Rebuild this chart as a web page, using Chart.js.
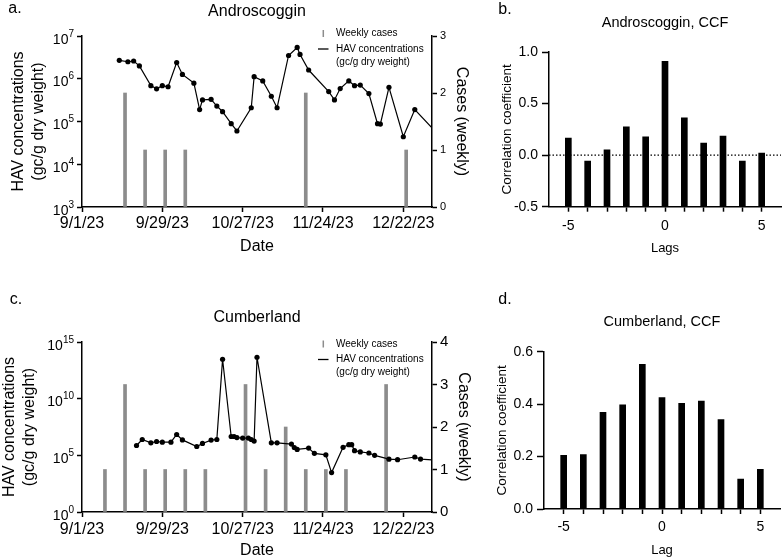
<!DOCTYPE html>
<html>
<head>
<meta charset="utf-8">
<title>HAV concentrations and weekly cases</title>
<script src="https://cdn.jsdelivr.net/npm/chart.js@4.4.1/dist/chart.umd.min.js"></script>
<style>
  html, body { margin: 0; padding: 0; background: #fff; }
  #page { position: relative; width: 784px; height: 559px; overflow: hidden; background: #fff; }
  canvas { position: absolute; }
</style>
</head>
<body>
<div id="page">
  <canvas id="panelA" width="500" height="275" style="left:0;top:0"></canvas>
  <canvas id="panelC" width="500" height="279" style="left:0;top:280px"></canvas>
  <canvas id="panelB" width="294" height="275" style="left:490px;top:0"></canvas>
  <canvas id="panelD" width="294" height="279" style="left:490px;top:280px"></canvas>
</div>
<script>
const FONT = '"Liberation Sans", Arial, Helvetica, sans-serif';
const BAR_GRAY = '#8c8c8c';

//x-axis: dates as text, converted to days since 9/1/23
const dateTicks = ['9/1/23', '9/29/23', '10/27/23', '11/24/23', '12/22/23'];
const dateEnd = '1/1/24';
const legendLabels = ['Weekly cases', 'HAV concentrations', '(gc/g dry weight)'];

//Androscoggin
const androDates = ['9/14/23', '9/17/23', '9/19/23', '9/21/23', '9/25/23', '9/27/23', '9/29/23', '10/1/23',
  '10/4/23', '10/6/23', '10/10/23', '10/12/23', '10/13/23', '10/16/23', '10/18/23', '10/20/23', '10/23/23',
  '10/25/23', '10/30/23', '10/31/23', '11/3/23', '11/6/23', '11/8/23', '11/12/23', '11/15/23', '11/16/23',
  '11/19/23', '11/26/23', '11/28/23', '11/30/23', '12/3/23', '12/5/23', '12/7/23', '12/10/23', '12/13/23',
  '12/14/23', '12/17/23', '12/22/23', '12/26/23', '1/3/24'];
const androHav = [2.7e6, 2.5e6, 2.6e6, 2.0e6, 6.9e5, 5.8e5, 6.9e5, 6.5e5,
  2.4e6, 1.26e6, 7.9e5, 1.9e5, 3.2e5, 3.3e5, 2.3e5, 1.7e5, 8.9e4,
  6.0e4, 2.1e5, 1.12e6, 8.9e5, 3.9e5, 2.1e5, 3.5e6, 5.4e6, 3.7e6,
  1.6e6, 5.0e5, 3.2e5, 5.9e5, 8.9e5, 6.9e5, 7.1e5, 4.5e5, 8.9e4,
  8.7e4, 6.3e5, 4.4e4, 1.9e5, 5.1e4];
const androCaseDates = ['9/16/23', '9/23/23', '9/30/23', '10/7/23', '11/18/23', '12/23/23'];
const androCases = [2, 1, 1, 1, 2, 1];
const androDecades = [1e3, 1e4, 1e5, 1e6, 1e7];

//Cumberland
const cumbDates = ['9/20/23', '9/22/23', '9/25/23', '9/27/23', '9/29/23', '10/2/23', '10/4/23', '10/6/23',
  '10/11/23', '10/13/23', '10/16/23', '10/18/23', '10/20/23', '10/23/23', '10/24/23', '10/25/23', '10/27/23',
  '10/29/23', '10/30/23', '10/31/23', '11/1/23', '11/6/23', '11/8/23', '11/13/23', '11/14/23', '11/15/23',
  '11/19/23', '11/21/23', '11/25/23', '11/27/23', '12/1/23', '12/3/23', '12/4/23', '12/5/23', '12/7/23',
  '12/10/23', '12/12/23', '12/17/23', '12/20/23', '12/26/23', '12/28/23', '1/3/24'];
const cumbHav = [7.4e5, 2.5e6, 1.26e6, 1.66e6, 1.45e6, 1.45e6, 6.9e6, 2.3e6,
  6.0e5, 1.12e6, 2.2e6, 2.5e6, 3.0e13, 4.6e6, 4.6e6, 3.7e6, 3.3e6,
  3.3e6, 2.5e6, 1.8e6, 4.5e13, 1.26e6, 1.26e6, 9.8e5, 4.9e5, 3.3e5,
  4.4e5, 1.5e5, 1.1e5, 3.0e3, 5.1e5, 8.7e5, 8.7e5, 2.6e5, 2.0e5,
  1.6e5, 1.0e5, 4.6e4, 4.1e4, 7.1e4, 4.7e4, 3.7e4];
const cumbCaseDates = ['9/9/23', '9/16/23', '9/23/23', '9/30/23', '10/7/23', '10/14/23', '10/28/23',
  '11/4/23', '11/11/23', '11/18/23', '11/25/23', '12/2/23', '12/16/23'];
const cumbCases = [1, 3, 1, 1, 1, 1, 3, 1, 2, 1, 1, 1, 3];
const cumbDecades = [1, 1e5, 1e10, 1e15];

//cross-correlation
const lags = [-5, -4, -3, -2, -1, 0, 1, 2, 3, 4, 5];
const androCcf = [0.165, -0.058, 0.052, 0.274, 0.177, 0.91, 0.361, 0.116, 0.184, -0.058, 0.019];
const cumbCcf = [0.205, 0.208, 0.369, 0.397, 0.552, 0.425, 0.403, 0.412, 0.341, 0.114, 0.151];

Chart.defaults.font.family = FONT;
Chart.defaults.color = '#000';

const START = new Date(2023, 8, 1);
function dayOf(label) {
  const [m, d, y] = label.split('/').map(Number);
  return Math.round((new Date(2000 + y, m - 1, d) - START) / 86400000);
}
function toPoints(dates, values) {
  return dates.map((s, i) => ({ x: dayOf(s), y: values[i] }));
}
const dateTickDays = dateTicks.map(dayOf);
const axisBorder = { display: true, color: '#000', width: 1.5 };

//10^n labels with a raised exponent
const powerLabels = {
  id: 'powerLabels',
  afterDraw(chart, args, opts) {
    const scale = chart.scales.y;
    const ctx = chart.ctx;
    ctx.save();
    ctx.fillStyle = '#000';
    ctx.textAlign = 'right';
    ctx.textBaseline = 'alphabetic';
    scale.ticks.forEach(tick => {
      const y = scale.getPixelForValue(tick.value);
      const exp = String(Math.round(Math.log10(tick.value)));
      const right = scale.right - opts.gap;
      ctx.font = `${opts.expSize}px ${FONT}`;
      const expWidth = ctx.measureText(exp).width;
      ctx.fillText(exp, right, y + opts.expDy);
      ctx.font = `${opts.baseSize}px ${FONT}`;
      ctx.fillText('10', right - expWidth, y + opts.baseDy);
    });
    ctx.restore();
  }
};

//small legend inside the plot (gray tick = cases, black dash = concentrations)
const caseLegend = {
  id: 'caseLegend',
  afterDraw(chart, args, opts) {
    const ctx = chart.ctx;
    const [r1, r2, r3] = opts.rows;
    ctx.save();
    ctx.strokeStyle = BAR_GRAY;
    ctx.lineWidth = 1.5;
    ctx.beginPath();
    ctx.moveTo(opts.x + 5.3, r1 - 3.5);
    ctx.lineTo(opts.x + 5.3, r1 + 3.5);
    ctx.stroke();
    ctx.strokeStyle = '#000';
    ctx.lineWidth = 1.3;
    ctx.beginPath();
    ctx.moveTo(opts.x, r2);
    ctx.lineTo(opts.x + 10.5, r2);
    ctx.stroke();
    ctx.font = `10px ${FONT}`;
    ctx.fillStyle = '#000';
    ctx.textAlign = 'left';
    ctx.textBaseline = 'middle';
    ctx.fillText(legendLabels[0], opts.x + 18, r1);
    ctx.fillText(legendLabels[1], opts.x + 18, r2);
    ctx.fillText(legendLabels[2], opts.x + 18, r3);
    ctx.restore();
  }
};

const panelLetter = {
  id: 'panelLetter',
  afterDraw(chart, args, opts) {
    const ctx = chart.ctx;
    ctx.save();
    ctx.font = `16px ${FONT}`;
    ctx.fillStyle = '#000';
    ctx.textAlign = 'center';
    ctx.textBaseline = 'middle';
    ctx.fillText(opts.text, opts.x, opts.y);
    ctx.restore();
  }
};

//dotted line at correlation 0
const zeroLine = {
  id: 'zeroLine',
  beforeDatasetsDraw(chart) {
    const ctx = chart.ctx;
    const y = chart.scales.y.getPixelForValue(0);
    const { left, right } = chart.chartArea;
    ctx.save();
    ctx.setLineDash([1.5, 2]);
    ctx.lineWidth = 1.3;
    ctx.strokeStyle = '#000';
    ctx.beginPath();
    ctx.moveTo(left, y);
    ctx.lineTo(right, y);
    ctx.stroke();
    ctx.restore();
  }
};

/**
 * time series: HAV concentrations (log, left) and weekly cases (bars, right)
 */
function createSeriesChart(canvasId, p) {
  return new Chart(document.getElementById(canvasId), {
    type: 'line',
    data: {
      datasets: [{
        type: 'line',
        label: 'HAV concentrations (gc/g dry weight)',
        data: toPoints(p.dates, p.hav),
        yAxisID: 'y',
        borderColor: '#000',
        borderWidth: 1.2,
        pointRadius: 2.6,
        pointBackgroundColor: '#000',
        pointBorderWidth: 0,
        clip: 0,
        order: 0
      }, {
        type: 'bar',
        label: 'Weekly cases',
        data: toPoints(p.caseDates, p.cases),
        yAxisID: 'yCases',
        backgroundColor: BAR_GRAY,
        barThickness: 3,
        order: 1
      }]
    },
    options: {
      responsive: false,
      animation: false,
      plugins: {
        legend: { display: false },
        tooltip: { enabled: false },
        title: {
          display: true, text: p.title, fullSize: false,
          font: { size: 16, weight: 'normal' }, padding: p.titlePad
        },
        powerLabels: { gap: 8, baseSize: 14, expSize: 10, baseDy: 7.5, expDy: 0.5 },
        caseLegend: { x: 318, rows: p.legendRows },
        panelLetter: p.letter
      },
      scales: {
        x: {
          type: 'linear', min: 0, max: dayOf(dateEnd), offset: false,
          afterBuildTicks: s => { s.ticks = dateTickDays.map(v => ({ value: v })); },
          afterFit: s => { s.height = p.xHeight; },
          grid: { drawOnChartArea: false, offset: false, tickLength: 5, tickColor: '#000', tickWidth: 1.5 },
          border: axisBorder,
          ticks: {
            autoSkip: false, maxRotation: 0, font: { size: 16 }, padding: p.xTickPad,
            callback: v => dateTicks[dateTickDays.indexOf(v)]
          },
          title: { display: true, text: 'Date', font: { size: 16, lineHeight: 1 }, padding: { top: 0, bottom: p.xTitlePad } }
        },
        y: {
          type: 'logarithmic', position: 'left',
          min: p.decades[0], max: p.decades[p.decades.length - 1],
          afterBuildTicks: s => { s.ticks = p.decades.map(v => ({ value: v })); },
          afterFit: s => { s.width = 82; },
          grid: { drawOnChartArea: false, tickLength: 5, tickColor: '#000', tickWidth: 1.5 },
          border: axisBorder,
          ticks: { display: false },
          title: {
            display: true, text: ['HAV concentrations', '(gc/g dry weight)'],
            font: { size: 16, lineHeight: 1.25 }, padding: { top: p.yTitlePad, bottom: 0 }
          }
        },
        yCases: {
          type: 'linear', position: 'right', min: 0, max: p.caseMax,
          afterFit: s => { s.width = 68; },
          grid: { drawOnChartArea: false, tickLength: 5, tickColor: '#000', tickWidth: 1.5 },
          border: axisBorder,
          ticks: { stepSize: 1, font: { size: p.caseFont }, padding: 3 },
          title: { display: true, text: 'Cases (weekly)', font: { size: 16 }, padding: { top: p.caseTitlePad, bottom: 0 } }
        }
      }
    },
    plugins: [powerLabels, caseLegend, panelLetter]
  });
}

/**
 * cross-correlation bars per lag
 */
function createCcfChart(canvasId, p) {
  return new Chart(document.getElementById(canvasId), {
    type: 'bar',
    data: {
      datasets: [{
        label: p.title,
        data: lags.map((lag, i) => ({ x: lag, y: p.values[i] })),
        backgroundColor: '#000',
        barThickness: 6,
        base: p.yMin
      }]
    },
    options: {
      responsive: false,
      animation: false,
      layout: { padding: { right: p.padRight } },
      plugins: {
        legend: { display: false },
        tooltip: { enabled: false },
        title: {
          display: true, text: p.title, fullSize: false,
          font: { size: 14.5, weight: 'normal' }, padding: p.titlePad
        },
        panelLetter: p.letter
      },
      scales: {
        x: {
          type: 'linear', min: -6, max: 6, offset: false,
          afterBuildTicks: s => { s.ticks = lags.map(v => ({ value: v })); },
          afterFit: s => { s.height = p.xHeight; },
          grid: { drawOnChartArea: false, offset: false, tickLength: 5, tickColor: '#000', tickWidth: 1.5 },
          border: axisBorder,
          ticks: {
            autoSkip: false, maxRotation: 0, font: { size: 14 }, padding: p.xTickPad,
            callback: v => (v % 5 === 0 ? String(v) : '')
          },
          title: { display: true, text: p.xTitle, font: { size: 13 }, padding: { top: 0, bottom: p.xTitlePad } }
        },
        y: {
          min: p.yMin, max: p.yMax,
          afterFit: s => { s.width = p.yWidth; },
          grid: { drawOnChartArea: false, tickLength: 7, tickColor: '#000', tickWidth: 1.5 },
          border: axisBorder,
          ticks: { stepSize: p.yStep, font: { size: 14 }, padding: 4, callback: v => v.toFixed(1) },
          title: {
            display: true, text: 'Correlation coefficient',
            font: { size: 13.5 }, padding: { top: p.yTitlePad, bottom: 0 }
          }
        }
      }
    },
    plugins: p.zeroLine ? [panelLetter, zeroLine] : [panelLetter]
  });
}

document.addEventListener('DOMContentLoaded', function() {
  createSeriesChart('panelA', {
    dates: androDates, hav: androHav, caseDates: androCaseDates, cases: androCases,
    decades: androDecades, title: 'Androscoggin',
    titlePad: { top: 2.4, bottom: 14.4 }, xHeight: 68, xTickPad: 2.4, xTitlePad: 20,
    yTitlePad: 8.3, caseMax: 3, caseFont: 11, caseTitlePad: 28.7,
    legendRows: [33.5, 49, 62.5], letter: { text: 'a.', x: 15, y: 9 }
  });
  createSeriesChart('panelC', {
    dates: cumbDates, hav: cumbHav, caseDates: cumbCaseDates, cases: cumbCases,
    decades: cumbDecades, title: 'Cumberland',
    titlePad: { top: 28.1, bottom: 14.7 }, xHeight: 47, xTickPad: 2.7, xTitlePad: 0,
    yTitlePad: 0, caseMax: 4, caseFont: 15, caseTitlePad: 27.4,
    legendRows: [64, 79.5, 92.5], letter: { text: 'c.', x: 16, y: 20 }
  });
  createCcfChart('panelB', {
    values: androCcf, title: 'Androscoggin, CCF', titlePad: { top: 14, bottom: 20.6 },
    yMin: -0.5, yMax: 1, yStep: 0.5, yWidth: 59, yTitlePad: 8.9,
    xHeight: 68.3, xTickPad: 5.9, xTitle: 'Lags', xTitlePad: 18.9, padRight: 3,
    letter: { text: 'b.', x: 15, y: 10 }, zeroLine: true
  });
  createCcfChart('panelD', {
    values: cumbCcf, title: 'Cumberland, CCF', titlePad: { top: 33, bottom: 21.3 },
    yMin: 0, yMax: 0.6, yStep: 0.2, yWidth: 54, yTitlePad: 4.4,
    xHeight: 50, xTickPad: 4.6, xTitle: 'Lag', xTitlePad: 1.2, padRight: 4,
    letter: { text: 'd.', x: 15, y: 20 }
  });
});
</script>
</body>
</html>
